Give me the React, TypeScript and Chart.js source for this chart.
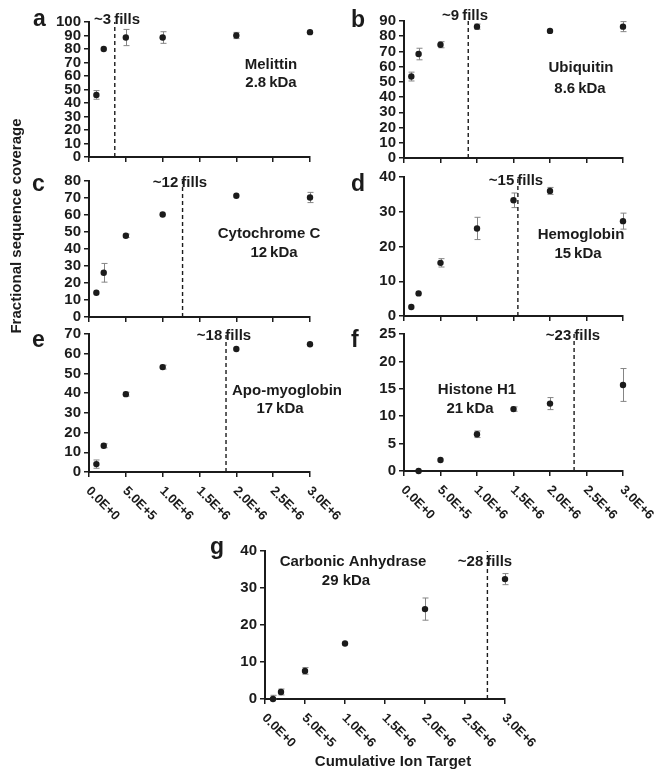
import React, { useEffect, useRef } from "react";
import { Chart, registerables } from "chart.js";

Chart.register(...registerables);

const PAGE_W = 666;
const PAGE_H = 780;
const FONT = '"Liberation Sans", Arial, Helvetica, sans-serif';
const INK = "#1b1b1b";
const ERR_INK = "#858585";

// ---------- data ----------
const xTickValues = [0, 5e5, 1e6, 1.5e6, 2e6, 2.5e6, 3e6];
const xTickLabels = ["0.0E+0", "5.0E+5", "1.0E+6", "1.5E+6", "2.0E+6", "2.5E+6", "3.0E+6"];

const melittinX = [1e5, 2e5, 5e5, 1e6, 2e6, 3e6];
const melittinY = [46, 80, 88.5, 88.5, 90, 92.5];
const melittinErr = [3.2, 0, 6, 4.3, 2.3, 0];

const ubiquitinX = [1e5, 2e5, 5e5, 1e6, 2e6, 3e6];
const ubiquitinY = [53.5, 68.3, 74.4, 86.3, 83.5, 86.3];
const ubiquitinErr = [2.9, 3.8, 2, 1.7, 0, 3.3];

const cytochromeX = [1e5, 2e5, 5e5, 1e6, 2e6, 3e6];
const cytochromeY = [14.3, 26, 47.8, 60.3, 71.3, 70.3];
const cytochromeErr = [0, 5.5, 1, 0, 0, 3];

const hemoglobinX = [1e5, 2e5, 5e5, 1e6, 1.5e6, 2e6, 3e6];
const hemoglobinY = [2.6, 6.5, 15.3, 25.2, 33.3, 36, 27.3];
const hemoglobinErr = [0, 0, 1.2, 3.2, 2.1, 1, 2.3];

const apoMyoglobinX = [1e5, 2e5, 5e5, 1e6, 2e6, 3e6];
const apoMyoglobinY = [4, 13.3, 39.5, 53.2, 62.4, 64.8];
const apoMyoglobinErr = [2.1, 1, 1, 1, 0, 0];

const histoneX = [2e5, 5e5, 1e6, 1.5e6, 2e6, 3e6];
const histoneY = [0, 2, 6.7, 11.3, 12.3, 15.7];
const histoneErr = [0, 0, 0.6, 0.4, 1.1, 3];

const carbonicX = [1e5, 2e5, 5e5, 1e6, 2e6, 3e6];
const carbonicY = [0, 1.9, 7.6, 15, 24.3, 32.4];
const carbonicErr = [1, 0.8, 0.9, 0, 3, 1.5];

const seriesX = [melittinX, ubiquitinX, cytochromeX, hemoglobinX, apoMyoglobinX, histoneX, carbonicX];
const seriesY = [melittinY, ubiquitinY, cytochromeY, hemoglobinY, apoMyoglobinY, histoneY, carbonicY];
const seriesErr = [melittinErr, ubiquitinErr, cytochromeErr, hemoglobinErr, apoMyoglobinErr, histoneErr, carbonicErr];

const proteinNames = ["Melittin", "Ubiquitin", "Cytochrome C", "Hemoglobin", "Apo-myoglobin", "Histone H1", "Carbonic Anhydrase"];
const proteinMasses = ["2.8\u2009kDa", "8.6\u2009kDa", "12\u2009kDa", "15\u2009kDa", "17\u2009kDa", "21\u2009kDa", "29 kDa"];
const fillCounts = ["~3\u2009fills", "~9\u2009fills", "~12\u2009fills", "~15\u2009fills", "~18\u2009fills", "~23\u2009fills", "~28\u2009fills"];
const fillTargets = [3.5e5, 8.8e5, 1.27e6, 1.56e6, 1.86e6, 2.33e6, 2.78e6];
const yMaxima = [100, 90, 80, 40, 70, 25, 40];
const yStepSizes = [10, 10, 10, 10, 10, 5, 10];
const panelLetters = ["a", "b", "c", "d", "e", "f", "g"];

const yTitle = "Fractional sequence coverage";
const xTitle = "Cumulative Ion Target";

// ---------- layout (page coordinates) ----------
type PanelLayout = {
  plot: [number, number, number, number];
  letter: [number, number];
  fills: [number, number];
  name: [number, number];
  mass: [number, number];
  xLabels: boolean;
};

const layouts: PanelLayout[] = [
  { plot: [89, 22, 310, 157], letter: [33, 26], fills: [117, 20], name: [271, 65], mass: [271, 83], xLabels: false },
  { plot: [404, 21, 623, 158], letter: [351, 27], fills: [465, 16], name: [581, 68], mass: [580, 89], xLabels: false },
  { plot: [89, 181, 310, 317], letter: [32, 191], fills: [180, 183], name: [269, 234], mass: [274, 253], xLabels: false },
  { plot: [404, 177, 623, 316], letter: [351, 191], fills: [516, 181], name: [581, 235], mass: [578, 254], xLabels: false },
  { plot: [89, 334, 310, 472], letter: [32, 347], fills: [224, 336], name: [287, 391], mass: [280, 409], xLabels: true },
  { plot: [404, 334, 623, 471], letter: [351, 347], fills: [573, 336], name: [477, 390], mass: [470, 409], xLabels: true },
  { plot: [265, 551, 505, 699], letter: [210, 554], fills: [485, 562], name: [353, 562], mass: [346, 581], xLabels: true },
];

const Y_AXIS_W = 45;
const X_AXIS_H = 8;

function Panel({ idx }: { idx: number }) {
  const ref = useRef<HTMLCanvasElement>(null);

  useEffect(() => {
    const canvas = ref.current;
    if (!canvas) return;
    const L = layouts[idx];
    const [pl, pt, pr, pb] = L.plot;
    const X = seriesX[idx];
    const Y = seriesY[idx];
    const E = seriesErr[idx];

    const panelPlugin = {
      id: "panelDecor" + idx,
      beforeDatasetsDraw(chart: any) {
        const ctx = chart.ctx;
        const xs = chart.scales.x;
        const ys = chart.scales.y;
        ctx.save();
        ctx.strokeStyle = ERR_INK;
        ctx.lineWidth = 1;
        E.forEach((e, i) => {
          if (!e) return;
          const px = Math.round(xs.getPixelForValue(X[i])) + 0.5;
          const y1 = ys.getPixelForValue(Y[i] + e);
          const y2 = ys.getPixelForValue(Math.max(0, Y[i] - e));
          ctx.beginPath();
          ctx.moveTo(px, y1);
          ctx.lineTo(px, y2);
          ctx.moveTo(px - 3, y1);
          ctx.lineTo(px + 3, y1);
          ctx.moveTo(px - 3, y2);
          ctx.lineTo(px + 3, y2);
          ctx.stroke();
        });
        ctx.restore();
      },
      afterDraw(chart: any) {
        const ctx = chart.ctx;
        ctx.save();
        ctx.fillStyle = INK;
        // panel letter
        ctx.font = `bold 23px ${FONT}`;
        ctx.textAlign = "left";
        ctx.textBaseline = "alphabetic";
        ctx.fillText(panelLetters[idx], L.letter[0], L.letter[1]);
        // annotations
        ctx.font = `bold 15px ${FONT}`;
        ctx.textAlign = "center";
        ctx.textBaseline = "middle";
        ctx.fillText(fillCounts[idx], L.fills[0], L.fills[1]);
        ctx.fillText(proteinNames[idx], L.name[0], L.name[1]);
        ctx.fillText(proteinMasses[idx], L.mass[0], L.mass[1]);
        // rotated x tick labels
        if (L.xLabels) {
          const xs = chart.scales.x;
          const axisY = chart.chartArea.bottom;
          ctx.font = `bold 13px ${FONT}`;
          ctx.textAlign = "left";
          ctx.textBaseline = "middle";
          xTickValues.forEach((v, i) => {
            const px = xs.getPixelForValue(v);
            ctx.save();
            ctx.translate(px - 1, axisY + 17);
            ctx.rotate(Math.PI / 4);
            ctx.fillText(xTickLabels[i], 0, 0);
            ctx.restore();
          });
        }
        // shared titles
        if (idx === 6) {
          ctx.font = `bold 15px ${FONT}`;
          ctx.textAlign = "center";
          ctx.textBaseline = "middle";
          ctx.save();
          ctx.translate(17, 226);
          ctx.rotate(-Math.PI / 2);
          ctx.fillText(yTitle, 0, 0);
          ctx.restore();
          ctx.font = `bold 15px ${FONT}`;
          ctx.fillText(xTitle, 393, 762);
        }
        ctx.restore();
      },
    };

    const axisGrid = {
      display: true,
      drawOnChartArea: false,
      drawTicks: true,
      tickLength: 5,
      color: INK,
      lineWidth: 1.5,
    };
    const axisBorder = { display: true, color: INK, width: 2 };

    const chart = new Chart(canvas, {
      type: "scatter",
      data: {
        datasets: [
          {
            data: X.map((x, i) => ({ x, y: Y[i] })),
            pointRadius: 3.2,
            pointHoverRadius: 3.2,
            backgroundColor: INK,
            borderWidth: 0,
            showLine: false,
            clip: false as any,
          },
          {
            data: [
              { x: fillTargets[idx], y: 0 },
              { x: fillTargets[idx], y: yMaxima[idx] },
            ],
            showLine: true,
            borderColor: INK,
            borderWidth: 1.4,
            borderDash: [4, 3],
            pointRadius: 0,
            clip: false as any,
          },
        ],
      },
      options: {
        responsive: false,
        animation: false,
        events: [],
        layout: {
          padding: {
            left: pl - Y_AXIS_W,
            top: pt,
            right: PAGE_W - pr,
            bottom: PAGE_H - pb - X_AXIS_H,
          },
        },
        plugins: {
          legend: { display: false },
          tooltip: { enabled: false },
          title: { display: false },
        },
        scales: {
          x: {
            type: "linear",
            min: 0,
            max: 3e6,
            ticks: { stepSize: 5e5, display: false },
            grid: axisGrid,
            border: axisBorder,
            afterFit: (s: any) => {
              s.height = X_AXIS_H;
            },
          },
          y: {
            type: "linear",
            min: 0,
            max: yMaxima[idx],
            ticks: {
              stepSize: yStepSizes[idx],
              autoSkip: false,
              font: { family: FONT, size: 15, weight: "bold" },
              color: INK,
              padding: 3,
            },
            grid: axisGrid,
            border: axisBorder,
            afterFit: (s: any) => {
              s.width = Y_AXIS_W;
            },
          },
        },
      } as any,
      plugins: [panelPlugin],
    });
    return () => chart.destroy();
  }, [idx]);

  return (
    <canvas
      ref={ref}
      width={PAGE_W}
      height={PAGE_H}
      style={{ position: "absolute", left: 0, top: 0, width: PAGE_W, height: PAGE_H }}
    />
  );
}

export default function App() {
  return (
    <div
      style={{
        position: "absolute",
        left: 0,
        top: 0,
        width: PAGE_W,
        height: PAGE_H,
        background: "#ffffff",
        overflow: "hidden",
      }}
    >
      {layouts.map((_, i) => (
        <Panel key={i} idx={i} />
      ))}
    </div>
  );
}
